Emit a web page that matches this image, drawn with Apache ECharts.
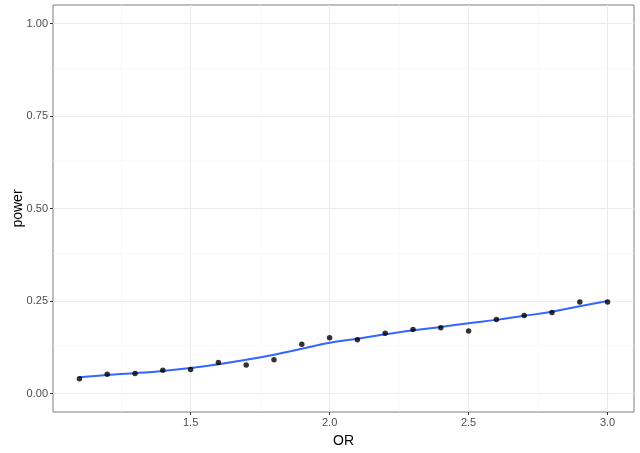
<!DOCTYPE html>
<html><head><meta charset="utf-8">
<script src="https://cdn.jsdelivr.net/npm/echarts@6/dist/echarts.min.js"></script>
<style>html,body{margin:0;padding:0;background:#fff}#c{width:640px;height:453px}</style>
</head><body><div id="c"></div>
<script>
const orValues = [1.1,1.2,1.3,1.4,1.5,1.6,1.7,1.8,1.9,2.0,2.1,2.2,2.3,2.4,2.5,2.6,2.7,2.8,2.9,3.0];
const powerValues = [0.040,0.052,0.054,0.063,0.065,0.084,0.077,0.091,0.133,0.151,0.145,0.163,0.173,0.178,0.169,0.200,0.211,0.219,0.247,0.247];
const smoothValues = [0.044,0.050,0.055,0.061,0.069,0.079,0.091,0.105,0.121,0.137,0.148,0.160,0.171,0.180,0.190,0.199,0.210,0.221,0.236,0.250];
const xTicks = [1.5,2.0,2.5,3.0];
const xMinor = [1.25,1.75,2.25,2.75];
const yTicks = [0,0.25,0.5,0.75,1.0];
const yMinor = [0.125,0.375,0.625,0.875];

const chart = echarts.init(document.getElementById('c'));
const majorCol = '#EBEBEB', minorCol = '#F5F5F5';
const gridLines = [];
xMinor.forEach(v=>gridLines.push({xAxis:v, lineStyle:{color:minorCol,width:0.6,type:'solid'}}));
yMinor.forEach(v=>gridLines.push({yAxis:v, lineStyle:{color:minorCol,width:0.6,type:'solid'}}));
xTicks.forEach(v=>gridLines.push({xAxis:v, lineStyle:{color:majorCol,width:1.1,type:'solid'}}));
yTicks.forEach(v=>gridLines.push({yAxis:v, lineStyle:{color:majorCol,width:1.1,type:'solid'}}));

chart.setOption({
  animation:false,
  grid:{left:53,top:5,right:6,bottom:41,containLabel:false,outerBoundsMode:'none',show:true,borderColor:'#7f7f7f',borderWidth:1,backgroundColor:'transparent'},
  xAxis:{type:'value',min:1.005,max:3.095,name:'OR',nameLocation:'middle',nameGap:22,nameMoveOverlap:false,
    nameTextStyle:{color:'#000',fontSize:14,fontFamily:'Liberation Sans, Arial'},
    axisLine:{show:false,onZero:false},splitLine:{show:false},
    axisTick:{show:true,length:3,customValues:xTicks,lineStyle:{color:'#333'}},
    axisLabel:{customValues:xTicks,color:'#4d4d4d',fontSize:11,margin:5,fontFamily:'Liberation Sans, Arial',formatter:v=>v.toFixed(1)}},
  yAxis:{type:'value',min:-0.05,max:1.05,name:'power',nameLocation:'middle',nameGap:28,nameMoveOverlap:false,
    nameTextStyle:{color:'#000',fontSize:14,fontFamily:'Liberation Sans, Arial'},
    axisLine:{show:false,onZero:false},splitLine:{show:false},
    axisTick:{show:true,length:3,customValues:yTicks,lineStyle:{color:'#333'}},
    axisLabel:{customValues:yTicks,color:'#4d4d4d',fontSize:11,margin:5,fontFamily:'Liberation Sans, Arial',formatter:v=>v.toFixed(2)}},
  series:[
    {type:'line',data:[],silent:true,z:0,markLine:{z:0,silent:true,symbol:'none',label:{show:false},data:gridLines,animation:false}},
    {type:'line',data:orValues.map((x,i)=>[x,smoothValues[i]]),smooth:0.4,showSymbol:false,
      lineStyle:{color:'#3366FF',width:2},z:3},
    {type:'scatter',data:orValues.map((x,i)=>[x,powerValues[i]]),symbolSize:5.5,
      itemStyle:{color:'#000'},z:4}
  ]
});
</script></body></html>
